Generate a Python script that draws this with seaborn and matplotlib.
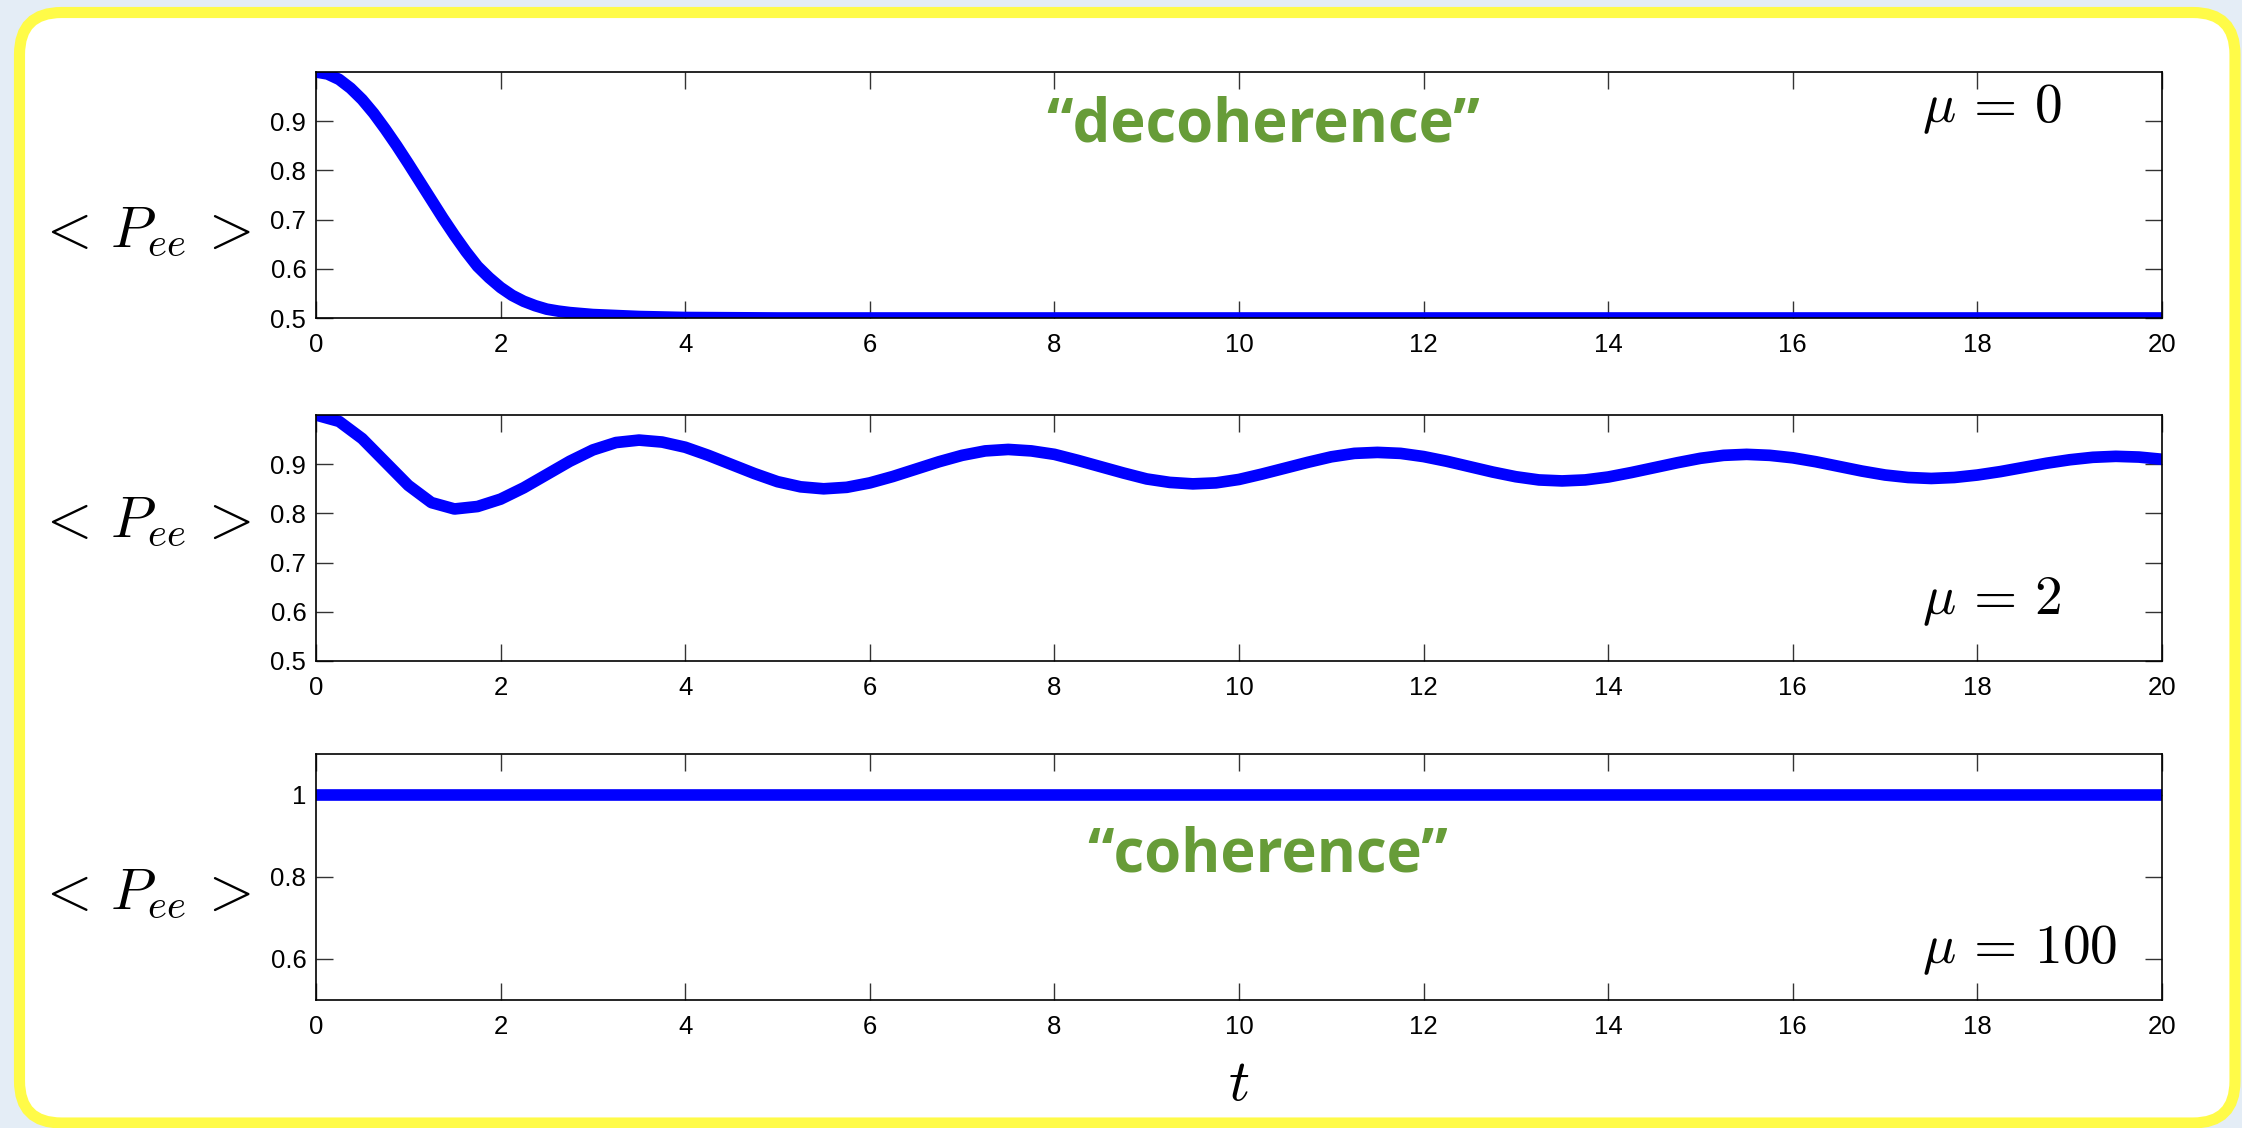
import matplotlib
matplotlib.use("Agg")
import matplotlib.pyplot as plt
from matplotlib.patches import FancyBboxPatch
import seaborn as sns

# values
t_mu0 = [0, 0.125, 0.25, 0.375, 0.5, 0.625, 0.75, 0.875, 1.0, 1.125, 1.25, 1.375, 1.5,
         1.625, 1.75, 1.875, 2.0, 2.125, 2.25, 2.375, 2.5, 2.625, 2.75, 2.875, 3.0, 3.25,
         3.5, 4.0, 5.0, 20]
p_mu0 = [1.0, 0.996, 0.985, 0.967, 0.944, 0.916, 0.884, 0.850, 0.814, 0.777, 0.740, 0.703,
         0.668, 0.635, 0.605, 0.582, 0.562, 0.546, 0.534, 0.525, 0.518, 0.514, 0.511, 0.509,
         0.507, 0.505, 0.503, 0.501, 0.5, 0.5]

t_mu2 = [i * 0.25 for i in range(81)]
p_mu2 = [1.0, 0.987, 0.952, 0.9045, 0.857, 0.822, 0.809, 0.814, 0.829, 0.852, 0.879, 0.906,
         0.929, 0.944, 0.949, 0.945, 0.9345, 0.918, 0.8995, 0.881, 0.8645, 0.854, 0.850,
         0.853, 0.862, 0.875, 0.890, 0.905, 0.918, 0.927, 0.930, 0.927, 0.920, 0.908, 0.895,
         0.882, 0.870, 0.863, 0.860, 0.862, 0.869, 0.880, 0.892, 0.904, 0.915, 0.922, 0.924,
         0.922, 0.9155, 0.906, 0.895, 0.884, 0.8745, 0.868, 0.866, 0.868, 0.874, 0.883,
         0.893, 0.903, 0.912, 0.918, 0.920, 0.918, 0.913, 0.905, 0.8955, 0.886, 0.878, 0.873,
         0.871, 0.873, 0.878, 0.885, 0.8935, 0.902, 0.909, 0.914, 0.916, 0.9145, 0.910]

t_mu100 = [0, 20]
p_mu100 = [1.0, 1.0]

mu_labels = [r"$\mu\,=\,0$", r"$\mu\,=\,2$", r"$\mu\,=\,100$"]
mu_pos = [0.925, 0.62, 0.622]
ylims = [(0.5, 1.0), (0.5, 1.0), (0.5, 1.1)]
yticks = [[0.5, 0.6, 0.7, 0.8, 0.9], [0.5, 0.6, 0.7, 0.8, 0.9], [0.6, 0.8, 1.0]]
yticklabels = [["0.5", "0.6", "0.7", "0.8", "0.9"], ["0.5", "0.6", "0.7", "0.8", "0.9"],
               ["0.6", "0.8", "1"]]
xticks = list(range(0, 21, 2))

sns.set_style("ticks")
plt.rcParams["font.family"] = ["Liberation Sans", "DejaVu Sans"]
plt.rcParams["mathtext.fontset"] = "cm"
plt.rcParams["text.color"] = "black"

W, H = 2242, 1128
fig = plt.figure(figsize=(W / 100, H / 100), dpi=100)
fig.patch.set_facecolor("#e4edf6")

frame = FancyBboxPatch((19.5 / 100, 5 / 100), (2235 - 19.5) / 100, (1123 - 12.5) / 100,
                       boxstyle="round,pad=0,rounding_size=0.42",
                       transform=fig.dpi_scale_trans, facecolor="white",
                       edgecolor="#fffb48", linewidth=8, zorder=-5)
fig.patches.append(frame)

left, width = 316 / W, (2162 - 316) / W
tops = [72, 415, 754]
h = 246 / H
series = [(t_mu0, p_mu0), (t_mu2, p_mu2), (t_mu100, p_mu100)]
label_y = [232, 522, 894]

for i, (tt, pp) in enumerate(series):
    ax = fig.add_axes([left, 1 - (tops[i] + 246) / H, width, h])
    ax.set_facecolor("white")
    sns.lineplot(x=tt, y=pp, ax=ax, color="#0000ff", linewidth=8.4)
    ax.set_xlim(0, 20)
    ax.set_ylim(*ylims[i])
    ax.set_xticks(xticks)
    ax.set_xticklabels([str(v) for v in xticks])
    ax.set_yticks(yticks[i])
    ax.set_yticklabels(yticklabels[i])
    ax.tick_params(direction="in", length=12.5, width=1, color="#333333",
                   top=True, right=True, labelsize=18.5, labelcolor="black")
    ax.tick_params(axis="x", pad=11)
    ax.tick_params(axis="y", pad=7)
    for s in ax.spines.values():
        s.set_visible(True)
        s.set_linewidth(1.2)
        s.set_color("black")
    ax.text(17.4, mu_pos[i], mu_labels[i], fontsize=40, ha="left", va="center",
            color="black")
    fig.text(36 / W, 1 - label_y[i] / H, r"$<\,P_{ee}\,>$", fontsize=42,
             ha="left", va="center", color="black")

green = "#679c38"
fig.text(1263 / W, 1 - 126 / H, "\u201cdecoherence\u201d", fontsize=43, color=green,
         fontweight="bold", family=["Open Sans", "DejaVu Sans"], ha="center", va="center")
fig.text(1268 / W, 1 - 856 / H, "\u201ccoherence\u201d", fontsize=43, color=green,
         fontweight="bold", family=["Open Sans", "DejaVu Sans"], ha="center", va="center")
fig.text(1239 / W, 1 - 1085 / H, r"$t$", fontsize=42, ha="center", va="center",
         color="black")

fig.savefig("out.png", dpi=100, facecolor=fig.get_facecolor())
